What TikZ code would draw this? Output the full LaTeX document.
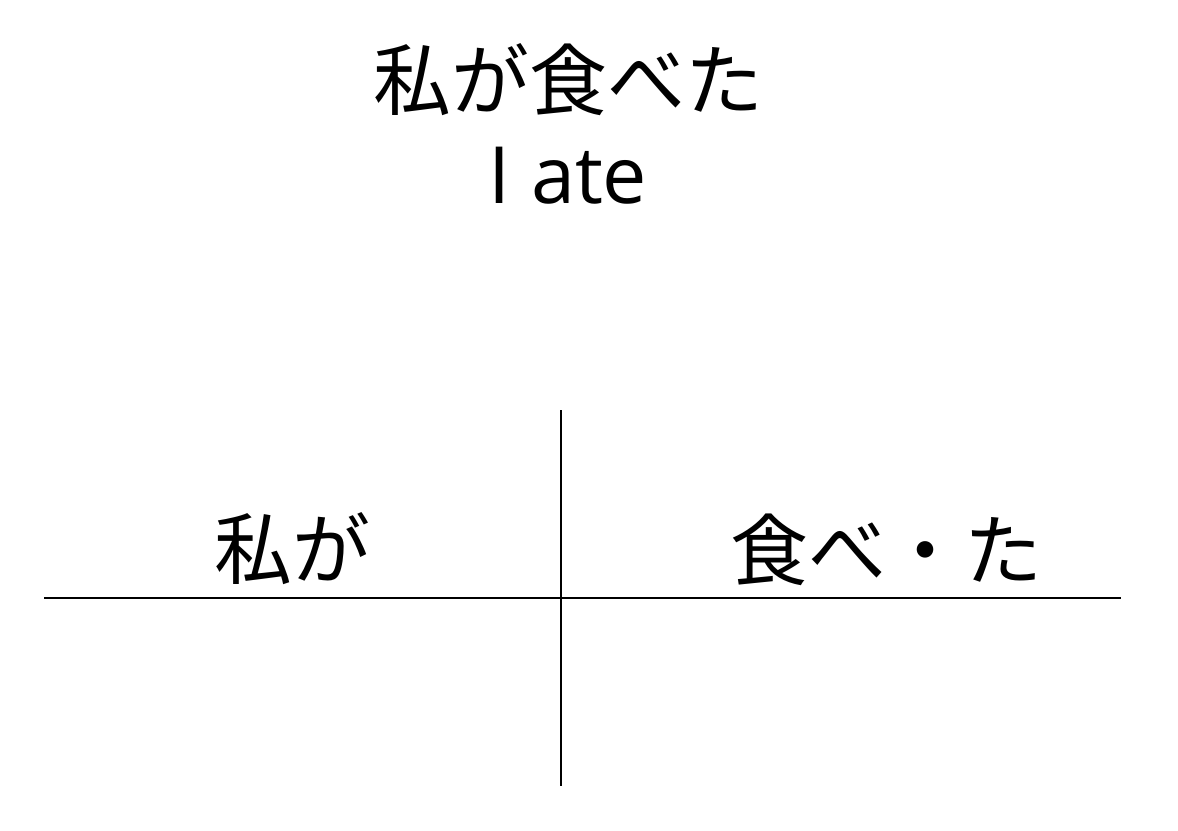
\documentclass[tikz,border=0pt]{standalone}
\usepackage{fontspec}
\setmainfont{Noto Sans CJK JP}
\newfontfamily\latinfont{Open Sans}
\begin{document}
\begin{tikzpicture}[x=1pt,y=-1pt,
  rule/.style={line width=2.2pt,black},
  big/.style={font=\fontsize{78}{90}\selectfont,inner sep=0pt,anchor=center},
  eng/.style={font=\latinfont\fontsize{79}{90}\selectfont,inner sep=0pt,anchor=base}]
\useasboundingbox (0,0) rectangle (1178,830);
\node[big] (t1) at (568,80) {私が食べた};
\node[eng] (t2) at (568,203) {I ate};
\coordinate (hl) at (44,598);
\coordinate (hr) at (1121,598);
\coordinate (vt) at (561,410);
\coordinate (vb) at (561,786);
\draw[rule] (hl) -- (hr);
\draw[rule] (vt) -- (vb);
\node[big] (a) at (292,549) {私が};
\node[big] (b) at (886,550) {食べ・た};
\end{tikzpicture}
\end{document}
